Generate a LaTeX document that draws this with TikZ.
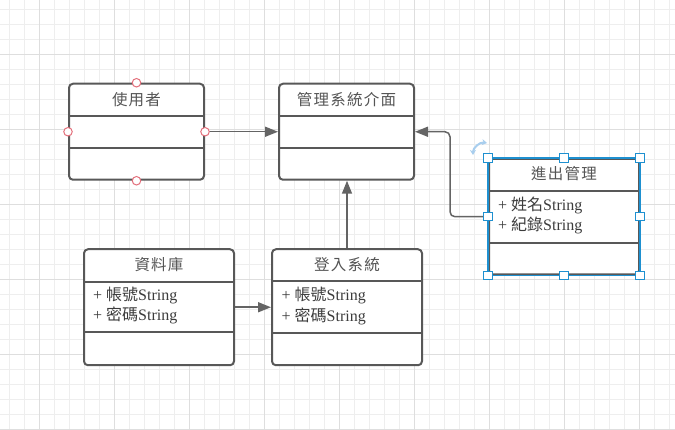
\documentclass[tikz,border=0pt]{standalone}
\usepackage{fontspec}
\setmainfont{Liberation Serif}
\newfontfamily\cjk{Noto Sans CJK TC}
\newfontfamily\cjktitle{Noto Sans CJK TC}[LetterSpace=8]
\usetikzlibrary{arrows.meta}

\definecolor{gridminor}{RGB}{238,238,238}
\definecolor{gridmajor}{RGB}{222,222,222}
\definecolor{boxline}{RGB}{88,88,88}
\definecolor{arrowline}{RGB}{100,100,100}
\definecolor{titletext}{RGB}{85,85,85}
\definecolor{attrtext}{RGB}{60,60,60}
\definecolor{portred}{RGB}{228,112,124}
\definecolor{selblue}{RGB}{30,144,208}
\definecolor{rotblue}{RGB}{168,206,238}

\tikzset{
  classbox/.style={draw=boxline, line width=2pt, rounded corners=4pt, fill=white,
    inner sep=0pt, minimum width=#1},
  divider/.style={draw=boxline, line width=2pt},
  titlelabel/.style={text=titletext, font=\fontsize{15.5}{15.5}\selectfont\cjktitle, inner sep=0pt},
  attrlabel/.style={text=attrtext, font=\fontsize{16}{16}\selectfont, anchor=west, inner sep=0pt},
  link/.style={draw=arrowline, line width=1.5pt,
    -{Triangle[length=13pt,width=10pt]}},
  port/.style={circle, draw=portred, fill=white, line width=1pt, minimum size=8.5pt, inner sep=0pt},
  handle/.style={rectangle, draw=selblue, fill=white, line width=1pt, minimum size=8.5pt, inner sep=0pt},
}

\begin{document}
\begin{tikzpicture}[x=1pt, y=-1pt]
  \useasboundingbox (0,0) rectangle (675,430);
  \fill[white] (0,0) rectangle (675,430);

  % background grid: fine lines every 15, heavier every 75
  \foreach \i in {0,...,44} \draw[gridminor, line width=0.8pt] ({9.3+15*\i},0) -- ({9.3+15*\i},430);
  \foreach \j in {0,...,28} \draw[gridminor, line width=0.8pt] (0,{9.3+15*\j}) -- (675,{9.3+15*\j});
  \foreach \i in {0,...,8} \draw[gridmajor, line width=0.8pt] ({39.3+75*\i},0) -- ({39.3+75*\i},430);
  \foreach \j in {0,...,5} \draw[gridmajor, line width=0.8pt] (0,{54.3+75*\j}) -- (675,{54.3+75*\j});

  % class boxes
  \node[classbox=135pt, minimum height=96pt] (usr) at (136.5,131.75) {};
  \draw[divider] (69,115.7) -- (204,115.7);
  \draw[divider] (69,148.3) -- (204,148.3);
  \node[titlelabel] (usrT) at (136.5,100) {使用者};

  \node[classbox=135pt, minimum height=96pt] (mgr) at (346.5,131.75) {};
  \draw[divider] (279,115.7) -- (414,115.7);
  \draw[divider] (279,148.3) -- (414,148.3);
  \node[titlelabel] (mgrT) at (346.5,100) {管理系統介面};

  \node[classbox=150pt, minimum height=116pt] (db) at (159,307.25) {};
  \draw[divider] (84,281.7) -- (234,281.7);
  \draw[divider] (84,332.5) -- (234,332.5);
  \node[titlelabel] (dbT) at (159,264.5) {資料庫};
  \node[attrlabel] (dbA1) at (93,295.5) {+ {\cjk 帳號}String};
  \node[attrlabel] (dbA2) at (93,315.5) {+ {\cjk 密碼}String};

  \node[classbox=150pt, minimum height=116pt] (login) at (347,307.25) {};
  \draw[divider] (272,281.2) -- (422,281.2);
  \draw[divider] (272,333.3) -- (422,333.3);
  \node[titlelabel] (loginT) at (347,264.5) {登入系統};
  \node[attrlabel] (loginA1) at (281.5,296) {+ {\cjk 帳號}String};
  \node[attrlabel] (loginA2) at (281.5,316) {+ {\cjk 密碼}String};

  \node[classbox=150pt, minimum height=115.5pt] (io) at (564,216.75) {};
  \draw[divider] (489,191) -- (639,191);
  \draw[divider] (489,242.7) -- (639,242.7);
  \node[titlelabel] (ioT) at (564,174) {進出管理};
  \node[attrlabel] (ioA1) at (498,205.5) {+ {\cjk 姓名}String};
  \node[attrlabel] (ioA2) at (498,225.5) {+ {\cjk 紀錄}String};

  % associations
  \draw[link] (usr.east) -- (mgr.west);
  \draw[link] (db.east) -- (login.west);
  \draw[link] (login.north) -- (login.north |- mgr.south);
  \draw[link, rounded corners=5pt] (io.west) -- ++(-38,0) |- (mgr.east);

  % connection points of the hovered box
  \foreach \a in {north,south,east,west} \node[port] (usrP\a) at (usr.\a) {};

  % selection frame, resize handles and rotate control
  \draw[selblue, line width=1.5pt] (io.north west) rectangle (io.south east);
  \foreach \a in {north west,north,north east,west,east,south west,south,south east}
    \node[handle] (ioH\a) at (io.\a) {};
  \coordinate (rotA) at (473,155);
  \coordinate (rotB) at (487,143);
  \draw[rotblue, line width=2pt, {Stealth[length=5pt,width=6pt]}-{Stealth[length=5pt,width=6pt]}]
    (rotA) to[bend left=50] (rotB);
\end{tikzpicture}
\end{document}
